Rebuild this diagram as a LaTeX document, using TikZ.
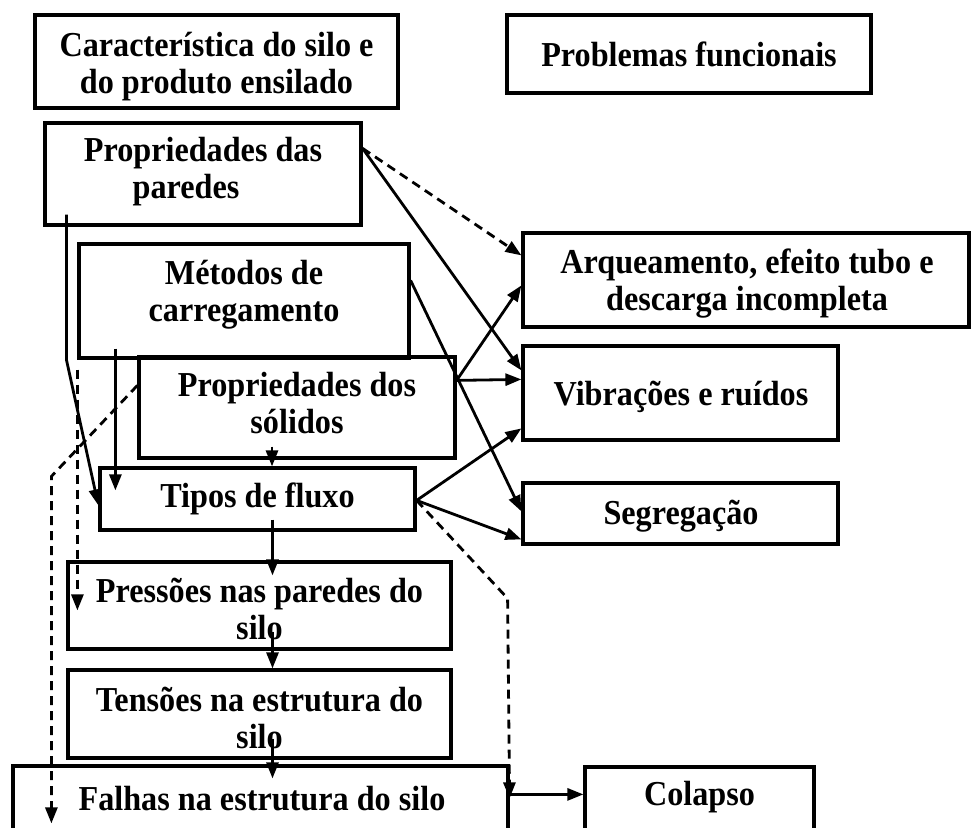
\documentclass[tikz,border=0pt]{standalone}
\usepackage{fontspec}
\setmainfont[FakeStretch=0.92]{Liberation Serif}
\usetikzlibrary{arrows.meta,calc}
\begin{document}
\begin{tikzpicture}[x=1pt,y=-1pt,
  box/.style={draw,line width=3.2pt,inner sep=0pt},
  txt/.style={inner sep=0pt,align=center,font=\fontsize{35}{37}\selectfont\bfseries},
  conn/.style={line width=2.8pt,-{Triangle[length=16pt,width=12pt]}},
  dconn/.style={conn,dash pattern=on 9pt off 6pt}]
\useasboundingbox (0,0) rectangle (971,827);
\clip (0,0) rectangle (971,827);
% boxes
\node[box,minimum width=363pt,minimum height=93pt] (caract) at (216.5,61.5) {};
\node[txt] (caract-t) at (216.5,67) {Característica do silo e\\do produto ensilado};
\node[box,minimum width=364pt,minimum height=78pt] (probl) at (689,54) {};
\node[txt] (probl-t) at (689,54) {Problemas funcionais};
\node[box,minimum width=316pt,minimum height=102pt] (paredes) at (203,174) {};
\node[txt] (paredes-t) at (203,171.5) {Propriedades das\\paredes\hspace*{34pt}};
\node[box,minimum width=330pt,minimum height=114pt] (metodos) at (244,301) {};
\node[txt] (metodos-t) at (244,294.5) {Métodos de\\carregamento};
\node[box,minimum width=316pt,minimum height=101pt] (solidos) at (297,407.5) {};
\node[txt] (solidos-t) at (297,403) {Propriedades dos\\sólidos};
\node[box,minimum width=315pt,minimum height=62pt] (tipos) at (257.5,499) {};
\node[txt] (tipos-t) at (257.5,499) {Tipos de fluxo};
\node[box,minimum width=383pt,minimum height=87pt] (pressoes) at (259.5,605.5) {};
\node[txt] (pressoes-t) at (259.5,609) {Pressões nas paredes do\\silo};
\node[box,minimum width=383pt,minimum height=88pt] (tensoes) at (259.5,714) {};
\node[txt] (tensoes-t) at (259.5,718) {Tensões na estrutura do\\silo};
\node[box,minimum width=495pt,minimum height=70pt] (falhas) at (260.5,801) {};
\node[txt] (falhas-t) at (262,799) {Falhas na estrutura do silo};
\node[box,minimum width=229pt,minimum height=68pt] (colapso) at (699.5,801) {};
\node[txt] (colapso-t) at (699.5,797) {Colapso};
\node[box,minimum width=446pt,minimum height=94pt] (arq) at (746,280) {};
\node[txt] (arq-t) at (747,283.5) {Arqueamento, efeito tubo e\\descarga incompleta};
\node[box,minimum width=315pt,minimum height=94pt] (vib) at (680.5,393) {};
\node[txt] (vib-t) at (681,397) {Vibrações e ruídos};
\node[box,minimum width=315pt,minimum height=61pt] (seg) at (680.5,513.5) {};
\node[txt] (seg-t) at (681,516) {Segregação};
% connectors to functional problems
\draw[dconn] ($(paredes.north east)+(0,27)$) -- ($(arq.north west)+(0,24)$);
\draw[conn] ($(paredes.north east)+(0,27)$) -- ($(vib.north west)+(0,26)$);
\draw[conn] ($(metodos.north east)+(0,38)$) -- ($(seg.north west)+(0,30)$);
\draw[conn] ($(solidos.north east)+(0,25)$) -- ($(arq.north west)+(0,54)$);
\draw[conn] ($(solidos.north east)+(0,25)$) -- ($(vib.north west)+(0,35)$);
\draw[conn] ($(tipos.north east)+(0,34)$) -- ($(vib.north west)+(0,84)$);
\draw[conn] ($(tipos.north east)+(0,34)$) -- ($(seg.north west)+(0,58)$);
% dashed from tipos to falhas/colapso
\coordinate (tcorner) at ($(falhas.north east)+(-2,-166)$);
\draw[dconn] ($(tipos.north east)+(0,34)$) -- (tcorner) -- ($(falhas.north east)+(0,34)$);
\draw[conn] ($(falhas.north east)+(0,30)$) -- ($(colapso.north west)+(0,29)$);
% left side connectors
\coordinate (pbend) at ($(paredes.south west)+(23,133)$);
\draw[conn] ($(paredes.south west)+(23,-12)$) -- (pbend) -- ($(tipos.north west)+(0,39)$);
\draw[conn] ($(metodos.south west)+(38,-11)$) -- ($(tipos.north west)+(17,24)$);
\draw[conn] ($(solidos.south)+(-25,-13)$) -- ($(tipos.north)+(14.5,0)$);
\draw[dconn] ($(metodos.south west)+(0,10)$) -- ($(pressoes.north west)+(11,50)$);
\coordinate (sbend) at ($(falhas.north west)+(40,-288)$);
\draw[dconn] ($(solidos.north west)+(0,30)$) -- (sbend) -- ($(falhas.north west)+(40,59)$);
% central chain
\draw[conn] ($(tipos.south)+(15,-12)$) -- ($(pressoes.north)+(13,15)$);
\draw[conn] ($(pressoes.south)+(13,-19)$) -- ($(tensoes.north)+(13,0)$);
\draw[conn] ($(tensoes.south)+(13,-21)$) -- ($(falhas.north)+(12,14)$);
\end{tikzpicture}
\end{document}
